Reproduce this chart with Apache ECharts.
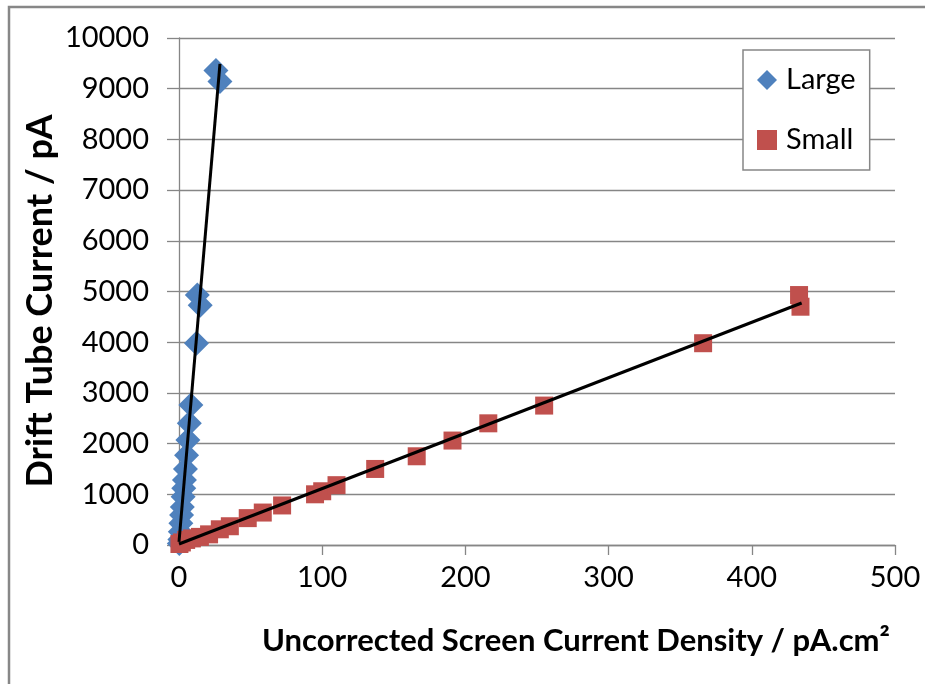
<!DOCTYPE html>
<html>
<head>
<meta charset="utf-8">
<script src="https://cdn.jsdelivr.net/npm/echarts@6/dist/echarts.min.js"></script>
<style>
html,body{margin:0;padding:0;background:#fff;}
#chart{width:925px;height:684px;}
</style>
</head>
<body>
<div id="chart"></div>
<script>
// Data
var largeData = [
  [0.2, 30], [0.6, 110], [0.9, 260], [1.3, 430], [1.8, 590], [2.3, 750],
  [2.9, 950], [3.3, 1120], [3.8, 1280], [4.5, 1500], [5.3, 1770], [6.2, 2070],
  [7.2, 2400], [8.3, 2760], [12.2, 3980], [14.8, 4730], [12.8, 4930],
  [25.8, 9360], [28.6, 9140]
];
var smallData = [
  [0.3, 20], [2, 50], [5, 100], [9, 130], [14.6, 160], [21, 210], [28.5, 310],
  [35.5, 370], [48, 530], [58.5, 640], [72, 780], [95, 1000], [100, 1060],
  [110, 1180], [137, 1500], [166, 1750], [191, 2060], [216, 2400], [255, 2750],
  [366, 3980], [434, 4700], [433, 4930]
];
var largeTrend = [[0, 60], [28.6, 9490]];
var smallTrend = [[0, 20], [434.8, 4773]];
var seriesNames = ['Large', 'Small'];
var xTitle = 'Uncorrected Screen Current Density / pA.cm\u00B2';
var yTitle = 'Drift Tube Current / pA';

var FONT = 'Lato';
var GRID = '#868686';
var chart = echarts.init(document.getElementById('chart'), null, {renderer: 'canvas'});
chart.setOption({
  animation: false,
  backgroundColor: '#ffffff',
  grid: {left: 179, right: 30, top: 38, bottom: 139, containLabel: false},
  xAxis: {
    type: 'value', min: 0, max: 500, interval: 100,
    axisLine: {show: true, lineStyle: {color: GRID, width: 1.3}},
    axisTick: {show: true, length: 10, lineStyle: {color: GRID, width: 1.3}},
    splitLine: {show: false},
    axisLabel: {fontFamily: FONT, fontSize: 29, color: '#000', margin: 18,
                formatter: function (v) { return String(v); }}
  },
  yAxis: {
    type: 'value', min: 0, max: 10000, interval: 1000,
    axisLine: {show: true, lineStyle: {color: GRID, width: 1.3}},
    axisTick: {show: true, length: 12, lineStyle: {color: GRID, width: 1.3}},
    splitLine: {show: true, lineStyle: {color: GRID, width: 1.3}},
    axisLabel: {fontFamily: FONT, fontSize: 29, color: '#000', margin: 30,
                formatter: function (v) { return String(v); }}
  },
  legend: {
    data: seriesNames,
    orient: 'vertical',
    left: 743, top: 50,
    padding: [15, 14, 15, 14],
    itemWidth: 20, itemHeight: 20, itemGap: 30,
    borderColor: GRID, borderWidth: 1.5, backgroundColor: '#fff',
    textStyle: {fontFamily: FONT, fontSize: 29, color: '#000', lineHeight: 30, padding: [0, 0, 0, 4]}
  },
  series: [
    {
      name: seriesNames[0], type: 'scatter', data: largeData, clip: false,
      symbol: 'diamond', symbolSize: [25, 25],
      itemStyle: {color: '#4F81BD', opacity: 1}, z: 2
    },
    {
      name: seriesNames[1], type: 'scatter', data: smallData, clip: false,
      symbol: 'rect', symbolSize: [18, 18],
      itemStyle: {color: '#C0504D', opacity: 1}, z: 3
    },
    {
      name: 'Large trend', type: 'line', data: largeTrend, symbol: 'none',
      lineStyle: {color: '#000', width: 3}, z: 5, silent: true
    },
    {
      name: 'Small trend', type: 'line', data: smallTrend, symbol: 'none',
      lineStyle: {color: '#000', width: 3}, z: 5, silent: true
    }
  ],
  graphic: [
    {type: 'polyline', shape: {points: [[9, 700], [9, 7], [940, 7]]},
     style: {fill: null, stroke: '#878787', lineWidth: 2.5}, silent: true, z: 100},
    {type: 'text', x: 576, y: 641,
     style: {text: xTitle, fontFamily: FONT, fontWeight: 'bold', fontSize: 31, fill: '#000',
             textAlign: 'center', textVerticalAlign: 'middle'}},
    {type: 'text', x: 40, y: 301, rotation: Math.PI / 2,
     style: {text: yTitle, fontFamily: FONT, fontWeight: 'bold', fontSize: 36, fill: '#000',
             textAlign: 'center', textVerticalAlign: 'middle'}}
  ]
});
</script>
</body>
</html>
